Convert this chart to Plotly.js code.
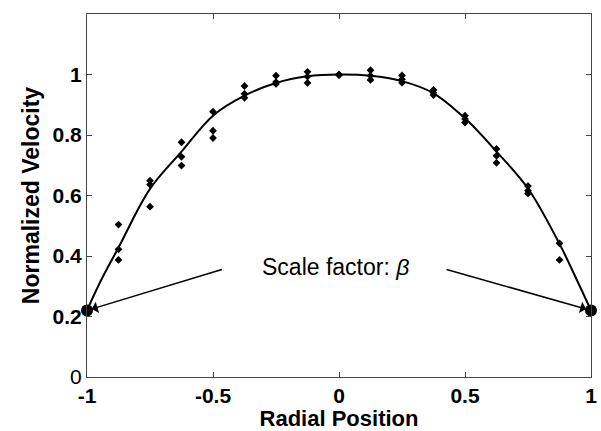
<!DOCTYPE html>
<html>
<head>
<meta charset="utf-8">
<script src="https://cdn.plot.ly/plotly-3.0.1.min.js"></script>
<style>html,body{margin:0;padding:0;background:#fff;}#chart{width:601px;height:431px;}</style>
</head>
<body>
<div id="chart"></div>
<script>
// Measured data points
const pointX = [-0.875,-0.875,-0.875, -0.75,-0.75,-0.75, -0.625,-0.625,-0.625, -0.5,-0.5,-0.5,
                -0.375,-0.375,-0.375, -0.25,-0.25,-0.25, -0.125,-0.125,-0.125, 0,0,0,
                0.125,0.125,0.125, 0.25,0.25,0.25, 0.375,0.375,0.375, 0.5,0.5,0.5,
                0.625,0.625,0.625, 0.75,0.75,0.75, 0.875,0.875];
const pointY = [0.504,0.422,0.387, 0.649,0.636,0.563, 0.776,0.728,0.699, 0.877,0.814,0.790,
                0.962,0.936,0.923, 0.996,0.975,0.969, 1.009,0.993,0.972, 0.999,1.000,0.998,
                1.014,0.996,0.982, 0.997,0.984,0.973, 0.949,0.940,0.932, 0.864,0.853,0.841,
                0.754,0.731,0.708, 0.631,0.616,0.607, 0.442,0.387];
// Fitted profile
const curveX = [-1,-0.95,-0.875,-0.75,-0.625,-0.5,-0.375,-0.25,-0.125,0,0.125,0.25,0.375,0.5,0.625,0.75,0.875,0.95,1];
const curveY = [0.22,0.31,0.428,0.622,0.745,0.864,0.930,0.972,0.994,1.0,0.996,0.978,0.938,0.855,0.745,0.623,0.44,0.31,0.22];
// Wall points (scale factor)
const wallX = [-1, 1];
const wallY = [0.22, 0.22];
// Axis ticks
const xTicks = [-1,-0.5,0,0.5,1];
const xTickText = ['<b>-1</b>','<b>-0.5</b>','<b>0</b>','<b>0.5</b>','<b>1</b>'];
const yTicks = [0,0.2,0.4,0.6,0.8,1];
const yTickText = ['0','<b>0.2</b>','<b>0.4</b>','<b>0.6</b>','<b>0.8</b>','<b>1</b>'];
// Annotation
const labelText = 'Scale factor: <i>β</i>';
const labelPos = {x: -0.015, y: 0.365};
const arrowTails = [{x: -0.459, y: 0.357}, {x: 0.421, y: 0.357}];

const FONT = 'Liberation Sans, Arial, sans-serif';

const traces = [
  {x: curveX, y: curveY, mode: 'lines', line: {color: '#000', width: 2, shape: 'spline', smoothing: 1}, hoverinfo: 'skip'},
  {x: pointX, y: pointY, mode: 'markers', marker: {symbol: 'diamond', size: 6, color: '#000'}},
  {x: wallX, y: wallY, mode: 'markers', marker: {symbol: 'circle', size: 12, color: '#000'}, cliponaxis: false}
];

const axisCommon = {
  showgrid: false, zeroline: false, showline: true, linecolor: '#444', linewidth: 1,
  mirror: 'ticks', ticks: 'inside', ticklen: 5, tickcolor: '#444', tickmode: 'array',
  tickfont: {family: FONT, size: 21, color: '#000'}
};

const annotations = [
  {x: labelPos.x, y: labelPos.y, xref: 'x', yref: 'y', text: labelText, showarrow: false,
   font: {family: FONT, size: 23, color: '#000'}}
];
arrowTails.forEach((t, i) => {
  annotations.push({x: wallX[i], y: wallY[i], ax: t.x, ay: t.y, axref: 'x', ayref: 'y', xref: 'x', yref: 'y',
    text: '', showarrow: true, arrowhead: 1, arrowsize: 1.3, arrowwidth: 1.5, arrowcolor: '#000', standoff: 5});
});

const layout = {
  width: 601, height: 431,
  margin: {l: 87, r: 10, t: 14, b: 54},
  paper_bgcolor: '#fff', plot_bgcolor: '#fff',
  showlegend: false,
  xaxis: Object.assign({}, axisCommon, {range: [-1, 1], tickvals: xTicks, ticktext: xTickText, automargin: false,
    title: {text: '<b>Radial Position</b>', font: {family: FONT, size: 22, color: '#000'}, standoff: 7}}),
  yaxis: Object.assign({}, axisCommon, {range: [0, 1.2], tickvals: yTicks, ticktext: yTickText, automargin: false,
    title: {text: '<b>Normalized Velocity</b>', font: {family: FONT, size: 23, color: '#000'}, standoff: 6}}),
  annotations: annotations
};

Plotly.newPlot('chart', traces, layout, {displayModeBar: false, staticPlot: true});
</script>
</body>
</html>
